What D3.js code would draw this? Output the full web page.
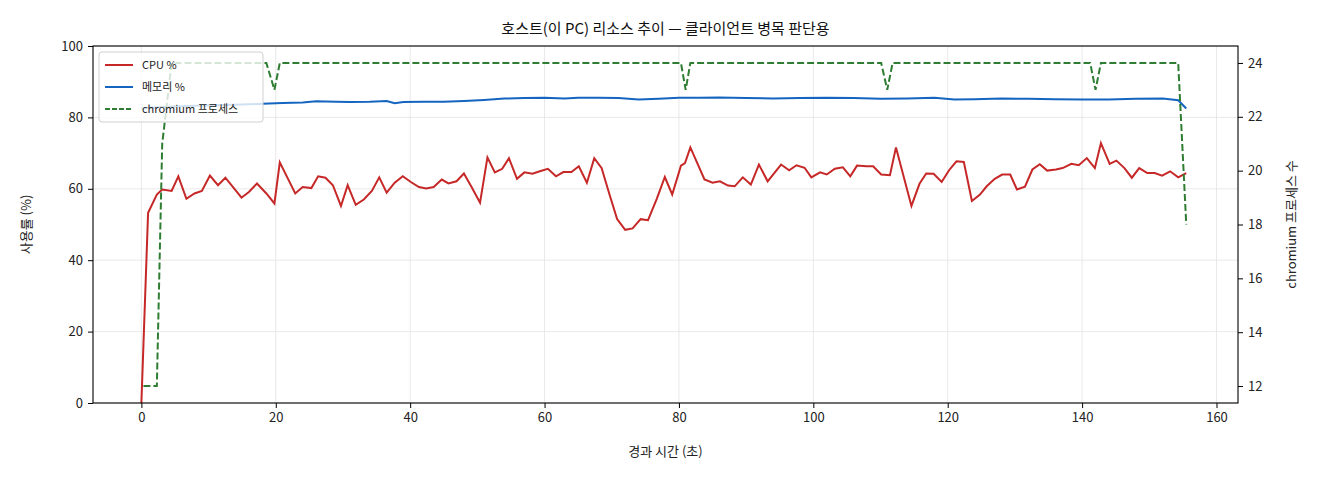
<!DOCTYPE html>
<html>
<head>
<meta charset="utf-8">
<script src="https://cdn.jsdelivr.net/npm/d3@7"></script>
<style>
  body { margin: 0; background: #fff; }
  text { font-family: "Noto Sans CJK KR", "DejaVu Sans", sans-serif; }
</style>
</head>
<body>
<svg id="chart" width="1320" height="480"></svg>
<script>
// CPU samples: elapsed seconds and usage %
const cpuTime = [0, 1.0, 2.3, 3.1, 4.5, 5.5, 6.7, 7.9, 9.0, 10.2, 11.4, 12.5, 13.7, 14.9, 16.0, 17.2, 18.6, 19.8, 20.6,
  22.9, 24.0, 25.3, 26.3, 27.4, 28.5, 29.7, 30.7, 31.9, 33.1, 34.3, 35.4, 36.5, 37.7, 38.9, 40.1, 41.3, 42.4, 43.5,
  44.7, 45.7, 46.9, 48.0, 49.2, 50.4, 51.5, 52.6, 53.7, 54.7, 55.9, 57.0, 58.2, 59.3, 60.5, 61.7, 62.8, 64.0, 65.1,
  66.3, 67.4, 68.5, 69.7, 70.8, 72.0, 73.1, 74.3, 75.4, 76.7, 77.9, 79.0, 80.3, 80.9, 81.7, 83.8, 85.0, 86.1, 87.3,
  88.3, 89.5, 90.7, 91.9, 93.2, 95.2, 96.4, 97.5, 98.7, 99.7, 101.0, 102.0, 103.2, 104.4, 105.5, 106.5, 107.9, 108.9,
  110.1, 111.4, 112.3, 114.6, 115.8, 116.8, 117.9, 119.1, 120.2, 121.3, 122.4, 123.6, 124.8, 125.8, 127.0, 128.1,
  129.3, 130.3, 131.5, 132.6, 133.7, 134.8, 136.1, 137.1, 138.4, 139.5, 140.7, 141.9, 142.8, 144.1, 145.1, 146.3,
  147.4, 148.5, 149.7, 150.8, 151.9, 153.1, 154.3, 155.5];
const cpuValues = [0, 53.3, 58.4, 59.8, 59.4, 63.5, 57.2, 58.7, 59.4, 63.7, 61.0, 63.1, 60.3, 57.5, 59.1, 61.5, 58.7, 55.9, 67.4,
  58.7, 60.5, 60.2, 63.5, 63.1, 61.0, 55.2, 61.0, 55.5, 57.0, 59.4, 63.2, 58.9, 61.7, 63.5, 61.9, 60.5, 60.1, 60.5,
  62.6, 61.5, 62.1, 64.3, 60.3, 56.1, 68.8, 64.6, 65.6, 68.6, 62.8, 64.6, 64.2, 64.9, 65.6, 63.5, 64.7, 64.7, 66.3,
  61.7, 68.6, 65.8, 58.2, 51.5, 48.5, 48.9, 51.5, 51.2, 57.2, 63.3, 58.4, 66.5, 67.2, 71.6, 62.6, 61.7, 62.1, 60.9,
  60.7, 63.2, 61.2, 66.8, 62.1, 66.8, 65.2, 66.6, 65.9, 63.2, 64.6, 64.0, 65.6, 66.0, 63.5, 66.5, 66.3, 66.3,
  64.0, 63.8, 71.6, 55.2, 61.4, 64.3, 64.2, 61.9, 65.2, 67.7, 67.5, 56.6, 58.4, 60.7, 62.8, 64.0,
  64.0, 59.8, 60.6, 65.4, 66.9, 65.1, 65.4, 65.8, 67.0, 66.6, 68.6, 65.8, 72.8, 67.0, 67.9, 65.8,
  63.1, 65.8, 64.4, 64.4, 63.7, 64.9, 63.2, 64.4];

// Memory samples
const memTime = [0, 3, 6, 9, 12, 15, 18, 21, 24, 26, 29, 31, 34, 36.5, 37.7, 39, 42, 45, 48, 51, 54, 57, 60, 63, 65, 68,
  71, 74, 77, 80, 83, 86, 90, 94, 98, 102, 106, 110, 114, 118, 121, 124, 128, 132, 136, 140, 144, 148, 152, 154.3, 155.5];
const memValues = [82.5, 82.9, 83.1, 83.3, 83.5, 83.6, 83.8, 84.0, 84.2, 84.5, 84.4, 84.3, 84.4, 84.6, 84.0, 84.3, 84.4, 84.4, 84.6, 84.9, 85.3, 85.4, 85.5, 85.3, 85.5, 85.5,
  85.4, 85.0, 85.2, 85.5, 85.5, 85.6, 85.4, 85.3, 85.4, 85.5, 85.4, 85.2, 85.3, 85.5, 85.0, 85.1, 85.3, 85.2, 85.1, 85.0, 85.0, 85.2, 85.3, 84.8, 82.5];

// chromium process count
const procTime = [0.3, 2.3, 3.1, 4.5, 18.6, 19.8, 20.6, 80.3, 81.0, 81.7, 110.1, 111.0, 111.8, 141.2, 142.0, 142.8, 154.3, 155.5];
const procValues = [12, 12, 21, 24, 24, 23, 24, 24, 23, 24, 24, 23, 24, 24, 23, 24, 24, 18];

const xTicks = [0, 20, 40, 60, 80, 100, 120, 140, 160];
const yTicks = [0, 20, 40, 60, 80, 100];
const y2Ticks = [12, 14, 16, 18, 20, 22, 24];

const margin = { left: 93, right: 1238, top: 46, bottom: 403 };
const svg = d3.select('#chart');

const x = d3.scaleLinear().domain([-7.2, 163.2]).range([margin.left, margin.right]);
const y = d3.scaleLinear().domain([0, 100]).range([margin.bottom, margin.top]);
const y2 = d3.scaleLinear().domain([11.37, 24.63]).range([margin.bottom, margin.top]);

// grid
svg.append('g').selectAll('line.gx').data(xTicks).enter().append('line')
    .attr('x1', d => x(d)).attr('x2', d => x(d))
    .attr('y1', margin.top).attr('y2', margin.bottom)
    .attr('stroke', '#e3e3e3').attr('stroke-width', 0.8);
svg.append('g').selectAll('line.gy').data(yTicks).enter().append('line')
    .attr('x1', margin.left).attr('x2', margin.right)
    .attr('y1', d => y(d)).attr('y2', d => y(d))
    .attr('stroke', '#e3e3e3').attr('stroke-width', 0.8);

// lines
const lineOf = (xs, ys, ys2) => d3.line().x((d, i) => x(xs[i])).y(d => ys2(d));
svg.append('path').datum(cpuValues)
    .attr('d', lineOf(cpuTime, cpuValues, y))
    .attr('fill', 'none').attr('stroke', '#c62828').attr('stroke-width', 2);
svg.append('path').datum(memValues)
    .attr('d', lineOf(memTime, memValues, y))
    .attr('fill', 'none').attr('stroke', '#1565c0').attr('stroke-width', 2);
svg.append('path').datum(procValues)
    .attr('d', lineOf(procTime, procValues, y2))
    .attr('fill', 'none').attr('stroke', '#2e7d32').attr('stroke-width', 2)
    .attr('stroke-dasharray', '7,3');

// frame
svg.append('rect')
    .attr('x', margin.left).attr('y', margin.top)
    .attr('width', margin.right - margin.left).attr('height', margin.bottom - margin.top)
    .attr('fill', 'none').attr('stroke', '#000').attr('stroke-width', 1.1);

// axes
const styleAxis = g => {
    g.select('.domain').remove();
    g.selectAll('text').attr('font-size', 13).attr('fill', '#222')
        .style('font-family', '"Noto Sans CJK KR", sans-serif');
    g.selectAll('line').attr('stroke', '#000');
};
svg.append('g').attr('transform', `translate(0,${margin.bottom})`)
    .call(d3.axisBottom(x).tickValues(xTicks).tickSize(5).tickPadding(5)).call(styleAxis);
svg.append('g').attr('transform', `translate(${margin.left},0)`)
    .call(d3.axisLeft(y).tickValues(yTicks).tickSize(5).tickPadding(5)).call(styleAxis);
svg.append('g').attr('transform', `translate(${margin.right},0)`)
    .call(d3.axisRight(y2).tickValues(y2Ticks).tickSize(5).tickPadding(5)).call(styleAxis);

// titles
svg.append('text').attr('x', (margin.left + margin.right) / 2).attr('y', 34)
    .attr('text-anchor', 'middle').attr('font-size', 15).attr('fill', '#111')
    .text('호스트(이 PC) 리소스 추이 — 클라이언트 병목 판단용');
svg.append('text').attr('x', (margin.left + margin.right) / 2).attr('y', 456)
    .attr('text-anchor', 'middle').attr('font-size', 13).attr('fill', '#222')
    .text('경과 시간 (초)');
svg.append('text').attr('transform', `translate(31,${(margin.top + margin.bottom) / 2}) rotate(-90)`)
    .attr('text-anchor', 'middle').attr('font-size', 13).attr('fill', '#222')
    .text('사용률 (%)');
svg.append('text').attr('transform', `translate(1296,${(margin.top + margin.bottom) / 2}) rotate(-90)`)
    .attr('text-anchor', 'middle').attr('font-size', 13).attr('fill', '#222')
    .text('chromium 프로세스 수');

// legend
const legendItems = [
    { label: 'CPU %', color: '#c62828', dash: null },
    { label: '메모리 %', color: '#1565c0', dash: null },
    { label: 'chromium 프로세스', color: '#2e7d32', dash: '5,2' }
];
const lg = svg.append('g').attr('transform', 'translate(99,52)');
lg.append('rect').attr('width', 164).attr('height', 70).attr('rx', 3)
    .attr('fill', 'rgba(255,255,255,0.8)').attr('stroke', '#d0d0d0');
legendItems.forEach((d, i) => {
    const yy = 13 + i * 22;
    lg.append('line').attr('x1', 6).attr('x2', 34).attr('y1', yy).attr('y2', yy)
        .attr('stroke', d.color).attr('stroke-width', 2)
        .attr('stroke-dasharray', d.dash);
    lg.append('text').attr('x', 43).attr('y', yy + 4).attr('font-size', 11).attr('fill', '#222').text(d.label);
});
</script>
</body>
</html>
